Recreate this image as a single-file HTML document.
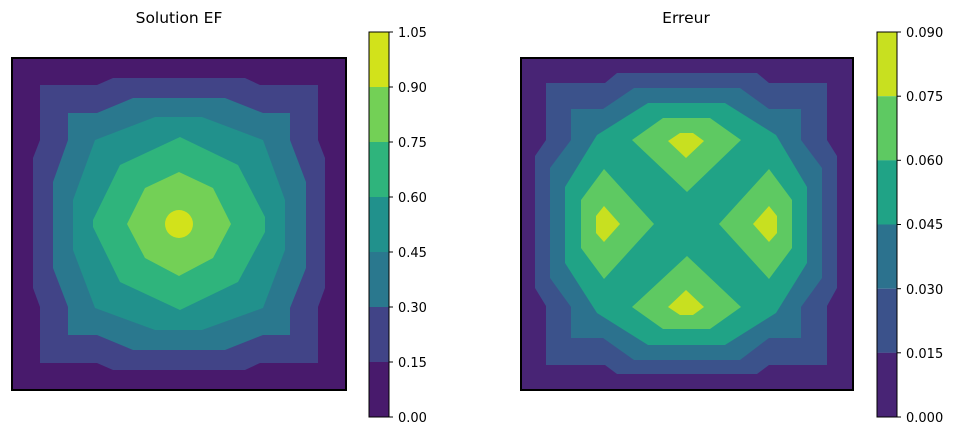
<!DOCTYPE html>
<html><head><style>body{margin:0;background:#fff}svg{display:block}text{font-family:"DejaVu Sans","Liberation Sans",sans-serif;fill:#000}</style></head><body>
<svg width="955" height="435" viewBox="0 0 955 435" xmlns="http://www.w3.org/2000/svg">
<text x="179" y="23" font-size="15.5" text-anchor="middle">Solution EF</text>
<rect x="12" y="58" width="334" height="332" fill="#481a6c"/>
<polygon fill="#414487" points="40,85 97,85 113,78 245,78 260,85 318,85 318,140 325,158 325,288 318,307 318,363 260,363 245,370 113,370 97,363 40,363 40,307 33,288 33,158 40,140"/>
<polygon fill="#2a788e" points="68,113 97,113 133,98 225,98 263,113 290,113 290,140 306,182 306,268 290,308 290,335 263,335 225,350 133,350 97,335 68,335 68,307 53,268 53,182 68,140"/>
<polygon fill="#21918c" points="95,140 155,117 202,117 263,140 285,200 285,250 263,308 202,330 155,330 95,308 73,250 73,200"/>
<polygon fill="#2fb47c" points="120,165 180,137 238,165 265,217 265,232 238,282 180,310 120,282 93,227 93,220"/>
<polygon fill="#73d056" points="145,188 179,172 213,188 231,224 213,258 179,276 145,258 127,224"/>
<ellipse cx="179" cy="224" rx="14" ry="14" fill="#d2e21b"/>
<rect x="12" y="58" width="334" height="332" fill="none" stroke="#000" stroke-width="2"/>
<g>
<rect x="369" y="32" width="20" height="55" fill="#d2e21b"/>
<rect x="369" y="87" width="20" height="55" fill="#73d056"/>
<rect x="369" y="142" width="20" height="55" fill="#2fb47c"/>
<rect x="369" y="197" width="20" height="55" fill="#21918c"/>
<rect x="369" y="252" width="20" height="55" fill="#2a788e"/>
<rect x="369" y="307" width="20" height="55" fill="#414487"/>
<rect x="369" y="362" width="20" height="55" fill="#481a6c"/>
<rect x="369" y="32" width="20" height="385" fill="none" stroke="#000" stroke-width="1"/>
<g stroke="#000"><line x1="389" x2="393" y1="32" y2="32"/><line x1="389" x2="393" y1="87" y2="87"/><line x1="389" x2="393" y1="142" y2="142"/><line x1="389" x2="393" y1="197" y2="197"/><line x1="389" x2="393" y1="252" y2="252"/><line x1="389" x2="393" y1="307" y2="307"/><line x1="389" x2="393" y1="362" y2="362"/><line x1="389" x2="393" y1="417" y2="417"/></g>
<g font-size="13"><text x="398" y="37">1.05</text><text x="398" y="92">0.90</text><text x="398" y="147">0.75</text><text x="398" y="202">0.60</text><text x="398" y="257">0.45</text><text x="398" y="312">0.30</text><text x="398" y="367">0.15</text><text x="398" y="422">0.00</text></g>
</g>
<text x="686" y="23" font-size="15.5" text-anchor="middle">Erreur</text>
<rect x="521" y="58" width="332" height="332" fill="#482475"/>
<polygon fill="#3b528b" points="546,83 605,83 617,73 757,73 769,83 827,83 827,140 837,156 837,288 827,306 827,365 769,365 757,374 617,374 605,365 546,365 546,306 535,288 535,156 546,140"/>
<polygon fill="#2c728e" points="571,109 603,109 634,88 740,88 769,109 801,109 801,140 822,168 822,278 801,307 801,338 769,338 740,360 634,360 603,338 571,338 571,307 550,278 550,168 571,140"/>
<polygon fill="#20a386" points="597,135 648,103 725,103 776,135 807,187 807,263 776,313 725,345 648,345 597,313 565,263 565,187"/>
<g fill="#5ec962">
<polygon points="663,118 710,118 741,140 687,192 632,140"/>
<polygon points="632,307 687,256 741,307 710,329 663,329"/>
<polygon points="581,200 604,169 654,224 604,279 581,248"/>
<polygon points="769,169 792,200 792,248 769,279 719,224"/>
</g>
<g fill="#c8e020">
<polygon points="668,141 680,133 693,133 704,141 686,158"/>
<polygon points="668,307 686,290 704,307 693,315 680,315"/>
<polygon points="596,216 604,206 620,224 604,242 596,233"/>
<polygon points="753,224 769,206 777,216 777,233 769,242"/>
</g>
<rect x="521" y="58" width="332" height="332" fill="none" stroke="#000" stroke-width="2"/>
<g>
<rect x="877" y="32" width="20" height="64.2" fill="#c8e020"/>
<rect x="877" y="96.2" width="20" height="64.2" fill="#5ec962"/>
<rect x="877" y="160.3" width="20" height="64.2" fill="#20a386"/>
<rect x="877" y="224.5" width="20" height="64.2" fill="#2c728e"/>
<rect x="877" y="288.7" width="20" height="64.2" fill="#3b528b"/>
<rect x="877" y="352.8" width="20" height="64.2" fill="#482475"/>
<rect x="877" y="32" width="20" height="385" fill="none" stroke="#000" stroke-width="1"/>
<g stroke="#000"><line x1="897" x2="901" y1="32" y2="32"/><line x1="897" x2="901" y1="96.2" y2="96.2"/><line x1="897" x2="901" y1="160.3" y2="160.3"/><line x1="897" x2="901" y1="224.5" y2="224.5"/><line x1="897" x2="901" y1="288.7" y2="288.7"/><line x1="897" x2="901" y1="352.8" y2="352.8"/><line x1="897" x2="901" y1="417" y2="417"/></g>
<g font-size="13"><text x="906" y="37">0.090</text><text x="906" y="101">0.075</text><text x="906" y="165">0.060</text><text x="906" y="229">0.045</text><text x="906" y="294">0.030</text><text x="906" y="358">0.015</text><text x="906" y="422">0.000</text></g>
</g>
</svg>
</body></html>
